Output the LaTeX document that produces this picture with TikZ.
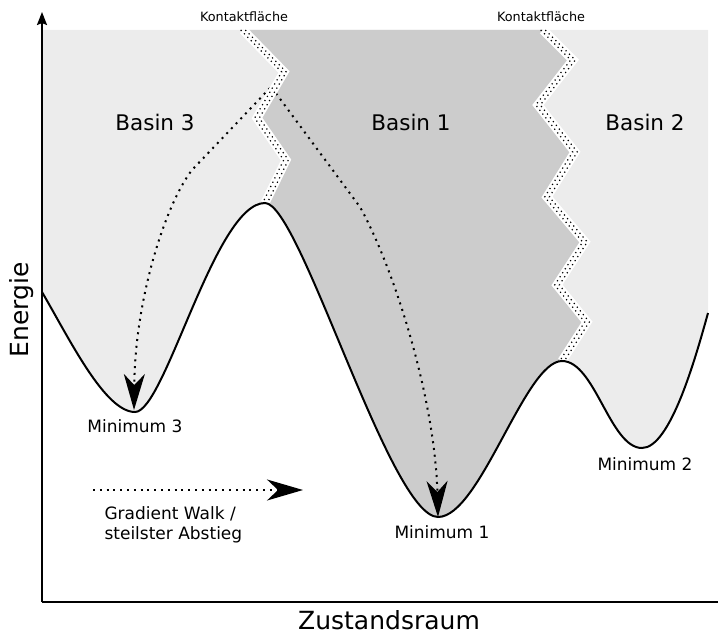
\documentclass[tikz,border=0pt]{standalone}
\usepackage{fontspec}
\setmainfont{DejaVu Sans}
\usetikzlibrary{arrows.meta}
\definecolor{lightbasin}{HTML}{ECECEC}
\definecolor{darkbasin}{HTML}{CCCCCC}
\begin{document}
\begin{tikzpicture}[x=1pt,y=-1pt,
  curveline/.style={line width=2pt},
  walk/.style={line width=2pt, dash pattern=on 2pt off 4.8pt, -{Stealth[length=36pt,width=21pt,inset=11pt]}},
  bandwhite/.style={white, line width=9pt, line join=miter, miter limit=4},
  banddots/.style={line width=1.2pt, dash pattern=on 1.2pt off 3.6pt},
  basinlabel/.style={font=\fontsize{21.5}{25}\selectfont},
  minlabel/.style={font=\fontsize{17}{20}\selectfont},
  contactlabel/.style={font=\fontsize{12.8}{15}\selectfont},
  axislabel/.style={font=\fontsize{25}{29}\selectfont, inner sep=0pt}]
\useasboundingbox (0,0) rectangle (718,634);
\def\seglA{.. controls (70,340) and (105,412) .. (135,412) .. controls (165,412) and (215,203) .. (265,203)}
\def\seglB{.. controls (300,203) and (390,517) .. (438,517) .. controls (480,517) and (525,361) .. (562,361)}
\def\seglC{.. controls (595,361) and (610,448) .. (642,448) .. controls (670,448) and (695,360) .. (708,313)}
% light basin background
\fill[lightbasin] (42,30) -- (42,292) \seglA \seglB \seglC -- (708,30) -- cycle;
% dark basin 1
\fill[darkbasin] (243,30) -- (284,72) -- (257,118) -- (286,160) -- (265,203) \seglB
  -- (587,322) -- (557,285) -- (585,242) -- (547,197) -- (575,152) -- (538,105) -- (573,60) -- (543,30) -- cycle;
% gradient walks
\coordinate (s3) at (270,88);
\coordinate (m3) at (134,410);
\coordinate (s1) at (272,88);
\coordinate (m1) at (438,517);
\draw[walk] (s3) -- (192,170) .. controls (165,205) and (135,300) .. (m3);
\draw[walk] (s1) -- (360,207) .. controls (395,270) and (435,400) .. (m1);
% contact bands
\def\zigL{(243,30) -- (284,72) -- (257,118) -- (286,160) -- (265,203)}
\def\zigR{(543,30) -- (573,60) -- (538,105) -- (575,152) -- (547,197) -- (585,242) -- (557,285) -- (587,322) -- (562,361)}
\draw[bandwhite] \zigL;
\draw[bandwhite] \zigR;
\draw[banddots, xshift=-2.3pt] \zigL;
\draw[banddots, xshift=2.3pt] \zigL;
\draw[banddots, xshift=-2.3pt] \zigR;
\draw[banddots, xshift=2.3pt] \zigR;
% energy curve
\draw[curveline] (42,292) \seglA \seglB \seglC;
% legend arrow
\coordinate (la) at (93,490);
\coordinate (lb) at (303,490);
\draw[walk] (la) -- (lb);
% axes
\coordinate (origin) at (42,602);
\coordinate (ytop) at (42,12);
\coordinate (xend) at (718,602);
\draw[line width=2pt, -{Stealth[length=13pt,width=10pt,inset=2pt]}] (origin) -- (ytop);
\draw[line width=2pt] (origin) -- (xend);
% labels
\node[axislabel, rotate=90] (energie) at (22,310) {Energie};
\node[axislabel] (zustand) at (389,620) {Zustandsraum};
\node[basinlabel] (b3) at (155,122) {Basin 3};
\node[basinlabel] (b1) at (411,122) {Basin 1};
\node[basinlabel] (b2) at (645,122) {Basin 2};
\node[contactlabel] (k1) at (244,17) {Kontaktfläche};
\node[contactlabel] (k2) at (541,17) {Kontaktfläche};
\node[minlabel] (min3) at (135,426) {Minimum 3};
\node[minlabel] (min1) at (442,532) {Minimum 1};
\node[minlabel] (min2) at (645,464) {Minimum 2};
\node[minlabel, align=left, anchor=west] (gw) at (101,525) {Gradient Walk /\\steilster Abstieg};
\end{tikzpicture}
\end{document}
